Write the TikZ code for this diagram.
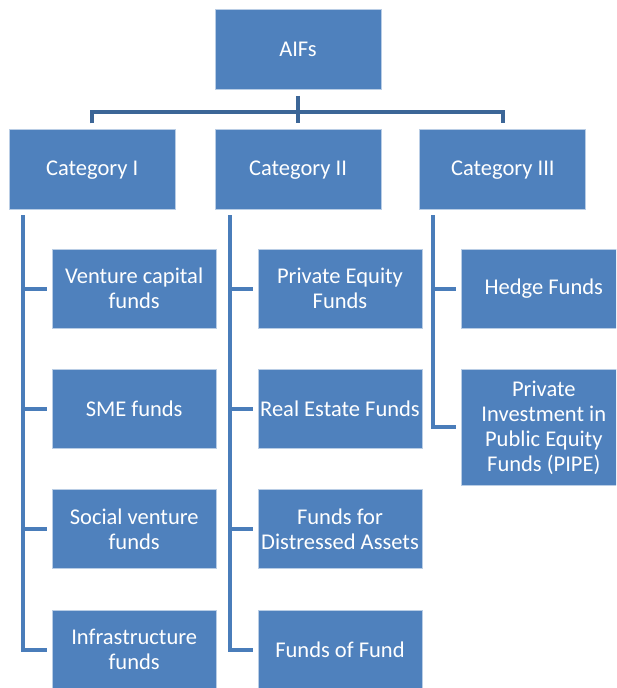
\documentclass[tikz,border=0pt]{standalone}
\usepackage{fontspec}
\setmainfont{Carlito}
\usetikzlibrary{positioning}
\definecolor{boxFill}{HTML}{4F81BD}
\definecolor{boxBorder}{HTML}{B9CDE5}
\definecolor{trunkColor}{HTML}{3C6697}
\definecolor{branchColor}{HTML}{4A7DBA}
\tikzset{
  topbox/.style={
    draw=boxBorder, fill=boxFill, line width=0.8pt,
    minimum width=166pt, minimum height=80pt, inner sep=1pt,
    font=\fontsize{22.5}{25}\selectfont, text=white, align=center,
  },
  leafbox/.style={
    topbox, minimum width=164pt, minimum height=79pt,
  },
  trunk/.style={draw=trunkColor, line width=4.5pt},
  branch/.style={draw=branchColor, line width=4pt},
}
\begin{document}
\begin{tikzpicture}[x=1pt, y=-1pt]
  \useasboundingbox (0,0) rectangle (616,688);
  \clip (0,0) rectangle (616,688);
  \fill[white] (0,0) rectangle (616,688);

  % === Root and categories ===
  \node[topbox] (aifs) at (298,49.5) {AIFs};
  \node[topbox, below=39.5pt of aifs] (catII) {Category II};
  \node[topbox, left=39pt of catII] (catI) {Category I};
  \node[topbox, right=38pt of catII] (catIII) {Category III};

  % === Category I funds ===
  \node[leafbox, below right=38.5pt and 43pt of catI.south west] (venture) {Venture capital\\funds};
  \node[leafbox, below=40.5pt of venture] (sme) {SME funds};
  \node[leafbox, below=40.5pt of sme] (social) {Social venture\\funds};
  \node[leafbox, below=40.5pt of social] (infra) {Infrastructure\\funds};

  % === Category II funds ===
  \node[leafbox, below right=38.5pt and 43pt of catII.south west] (equity) {Private Equity\\Funds};
  \node[leafbox, below=40.5pt of equity] (estate) {Real Estate Funds};
  \node[leafbox, below=40.5pt of estate] (distress) {Funds for\\Distressed Assets};
  \node[leafbox, below=40.5pt of distress] (fof) {Funds of Fund};

  % === Category III funds ===
  \node[leafbox, below right=38.5pt and 42pt of catIII.south west] (hedge) {Hedge Funds};
  \node[leafbox, minimum height=116pt, below=40.5pt of hedge] (pipe) {Private\\Investment in\\Public Equity\\Funds (PIPE)};

  % === Root connector ===
  \draw[trunk] ([yshift=-6pt]aifs.south) -- ++(0,16) coordinate (hub);
  \draw[trunk] ([yshift=6pt]catI.north) |- (hub) -| ([yshift=6pt]catIII.north);
  \draw[trunk] (hub) -- ([yshift=6pt]catII.north);

  % === Category connectors ===
  \coordinate (spineI) at ([xshift=14pt, yshift=-5pt]catI.south west);
  \draw[branch] (spineI) |- ([xshift=-5pt]infra.west);
  \foreach \n in {venture, sme, social}
    \draw[branch] (spineI |- \n.west) -- ([xshift=-5pt]\n.west);

  \coordinate (spineII) at ([xshift=15pt, yshift=-5pt]catII.south west);
  \draw[branch] (spineII) |- ([xshift=-5pt]fof.west);
  \foreach \n in {equity, estate, distress}
    \draw[branch] (spineII |- \n.west) -- ([xshift=-5pt]\n.west);

  \coordinate (spineIII) at ([xshift=14pt, yshift=-5pt]catIII.south west);
  \draw[branch] (spineIII) |- ([xshift=-5pt]pipe.west);
  \draw[branch] (spineIII |- hedge.west) -- ([xshift=-5pt]hedge.west);

\end{tikzpicture}
\end{document}
